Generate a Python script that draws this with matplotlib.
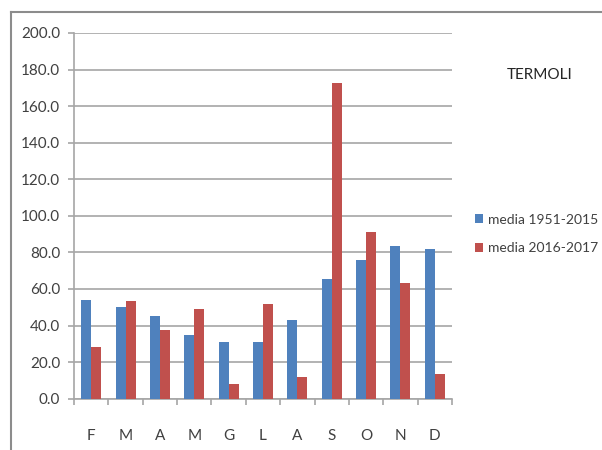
import matplotlib.pyplot as plt
from matplotlib.lines import Line2D
from matplotlib.ticker import FormatStrFormatter
import numpy as np

mesi = ["F", "M", "A", "M", "G", "L", "A", "S", "O", "N", "D"]
media_1951_2015 = [54.0, 50.0, 45.0, 34.6, 31.1, 31.1, 43.2, 65.4, 75.6, 83.6, 81.6]
media_2016_2017 = [28.2, 53.6, 37.7, 49.2, 8.0, 51.6, 12.0, 172.9, 91.3, 63.4, 13.5]

blu = "#4F81BD"
rosso = "#C0504D"
grigio = "#A6A6A6"
testo = "#404040"

plt.rcParams['font.family'] = ['Lato', 'DejaVu Sans']

fig = plt.figure(figsize=(6.02, 4.5), dpi=100)
ax = fig.add_axes([74 / 602, 1 - 398.7 / 450, (452 - 74) / 602, (398.7 - 33) / 450])

x = np.arange(len(mesi))
w = 0.29
ax.bar(x - w / 2, media_1951_2015, w, color=blu, label="media 1951-2015", zorder=3)
ax.bar(x + w / 2, media_2016_2017, w, color=rosso, label="media 2016-2017", zorder=3)

ax.set_xlim(-0.5, len(mesi) - 0.5)
ax.set_ylim(0, 200)
ax.set_yticks(np.arange(0, 201, 20))
ax.yaxis.set_major_formatter(FormatStrFormatter('%.1f'))
ax.yaxis.grid(True, color=grigio, linewidth=1.2, zorder=0)

ax.set_xticks(x)
ax.set_xticklabels(mesi)
ax.set_xticks(np.arange(-0.5, len(mesi), 1), minor=True)
ax.tick_params(axis='x', which='major', length=0, pad=22, labelsize=11, labelcolor=testo)
ax.tick_params(axis='x', which='minor', length=4, color=grigio, width=1.2)
ax.tick_params(axis='y', length=4, color=grigio, width=1.2, labelsize=11, labelcolor=testo, pad=6)

for s in ['top', 'right']:
    ax.spines[s].set_visible(False)
for s in ['left', 'bottom']:
    ax.spines[s].set_color(grigio)
    ax.spines[s].set_linewidth(1.2)

fig.text(540 / 602, 1 - 75 / 450, "TERMOLI", ha='center', va='center', fontsize=11, color="#262626")

ax.legend(loc='center left', bbox_to_anchor=(475 / 602, 1 - 234 / 450), bbox_transform=fig.transFigure,
          frameon=False, fontsize=10, handlelength=0.6, handleheight=0.6, handletextpad=0.35,
          labelspacing=1.2, labelcolor=testo, borderpad=0, borderaxespad=0)

# cornice esterna
fig.add_artist(Line2D([11 / 602, 11 / 602], [0, 1 - 12 / 450], color="#8C8C8C", linewidth=1.5))
fig.add_artist(Line2D([11 / 602, 1], [1 - 12 / 450, 1 - 12 / 450], color="#8C8C8C", linewidth=1.5))

fig.savefig("out.png", dpi=100)
